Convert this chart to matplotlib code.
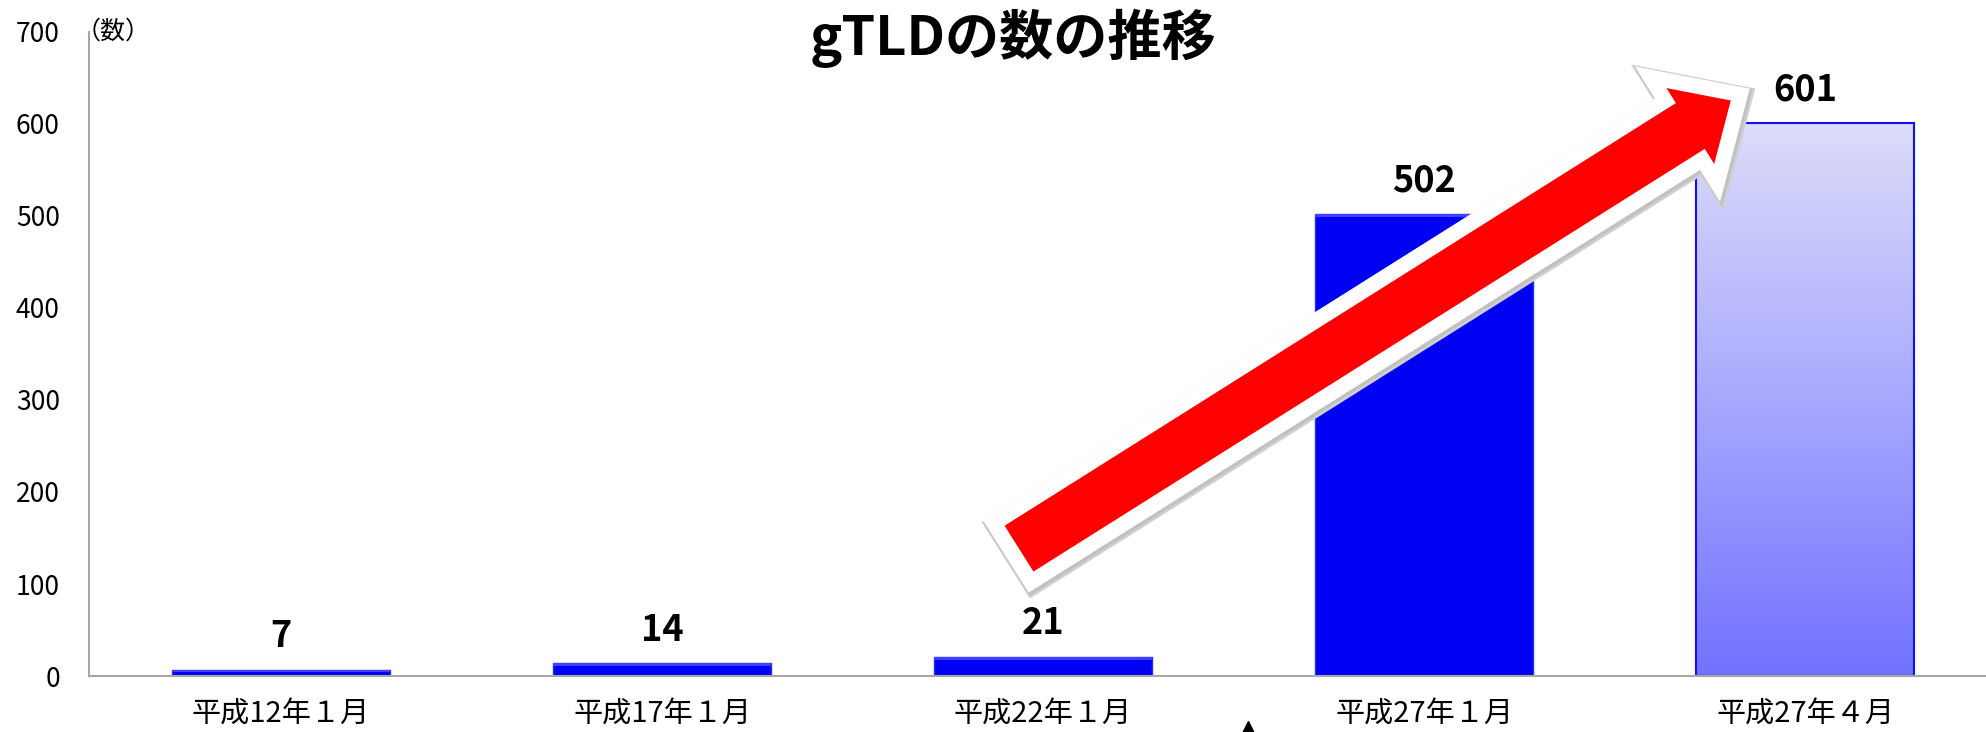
import numpy as np
import matplotlib
matplotlib.use('Agg')
import matplotlib.pyplot as plt
import matplotlib.patheffects as pe
from matplotlib.colors import LinearSegmentedColormap
from matplotlib.lines import Line2D

plt.rcParams['font.family'] = ['Noto Sans CJK JP', 'DejaVu Sans']

# --- datos ---
periodos = ['平成12年１月', '平成17年１月', '平成22年１月', '平成27年１月', '平成27年４月']
cantidad_gtld = [7, 14, 21, 502, 601]
marcas_y = [0, 100, 200, 300, 400, 500, 600, 700]

fig = plt.figure(figsize=(19.86, 7.32), dpi=100)
ax = fig.add_axes([0.0448, 0.0765, 0.9552, 0.8798])

x = np.arange(len(periodos))
barras = ax.bar(x, cantidad_gtld, width=0.57, color='#0000F2',
                edgecolor='#2a2aff', linewidth=1, zorder=2)

# brillo superior (efecto bisel) en las barras azules
bisel = np.minimum(np.array(cantidad_gtld[:-1]) * 0.4, 3.5)
ax.bar(x[:-1], bisel, bottom=np.array(cantidad_gtld[:-1]) - bisel, width=0.57,
       color='#4040ff', linewidth=0, zorder=2.1)

# ultima barra con degradado lavanda
ultima = barras[-1]
ultima.set_facecolor('none')
ultima.set_edgecolor('#1010ff')
ultima.set_linewidth(1.5)
grad = np.linspace(0, 1, 256).reshape(-1, 1)
cmap = LinearSegmentedColormap.from_list('lavanda', ['#DCDCFA', '#A8A8FE', '#7272FF'])
bx, bw, bh = ultima.get_x(), ultima.get_width(), ultima.get_height()
im = ax.imshow(grad, cmap=cmap, extent=[bx, bx + bw, 0, bh], aspect='auto',
               origin='upper', zorder=1.9)
im.set_clip_path(ultima)

# etiquetas de valor
for xi, v in zip(x, cantidad_gtld):
    ax.annotate(str(v), (xi, v), xytext=(0, 16), textcoords='offset points',
                ha='center', va='baseline', fontsize=26, fontweight='bold', zorder=4)

ax.set_xlim(-0.504, 4.475)
ax.set_ylim(0, 700)
ax.set_yticks(marcas_y)
ax.set_xticks(x)
ax.set_xticklabels(periodos)
ax.tick_params(axis='y', length=0, pad=21, labelsize=19)
ax.tick_params(axis='x', length=0, pad=17, labelsize=21)
for lado in ['top', 'right']:
    ax.spines[lado].set_visible(False)
for lado in ['left', 'bottom']:
    ax.spines[lado].set_color('#A6A6A6')
    ax.spines[lado].set_linewidth(1.5)

# flecha roja de tendencia (borde blanco + sombra gris suave)
flecha = ax.annotate('', xy=(3.83, 632), xytext=(1.92, 134),
                     arrowprops=dict(arrowstyle='simple,head_length=1.2,head_width=2.25,tail_width=1.25',
                                     mutation_scale=40, fc='#FF0000', ec='white', lw=11,
                                     joinstyle='miter', shrinkA=0, shrinkB=0),
                     zorder=5)
flecha.arrow_patch.set_path_effects([
    pe.Stroke(linewidth=15, foreground='#d0d0d0', offset=(1.5, -1.5)),
    pe.Stroke(linewidth=13, foreground='#b8b8b8', offset=(1, -1), alpha=0.6),
    pe.Normal()])

fig.text(0.51, 0.948, 'gTLDの数の推移', ha='center', va='center', fontsize=39, fontweight='bold')
fig.text(76 / 1986, 0.957, '（数）', ha='left', va='center', fontsize=18)

# pequeño triangulo cortado en el borde inferior
fig.add_artist(Line2D([1248 / 1986], [0.0], marker='^', markersize=16, color='black',
                      transform=fig.transFigure, clip_on=False))

fig.savefig('out.png', dpi=100)
